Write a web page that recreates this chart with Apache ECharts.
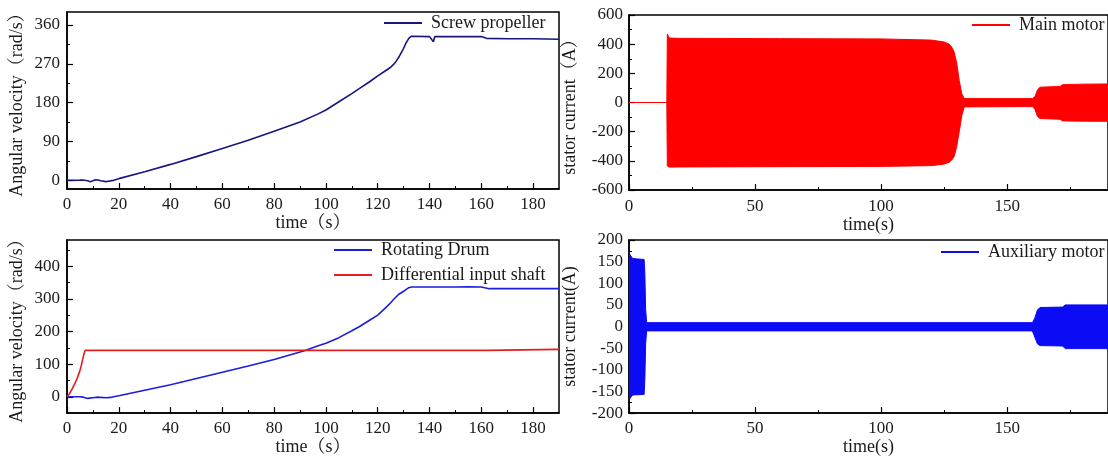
<!DOCTYPE html>
<html>
<head>
<meta charset="utf-8">
<script src="https://cdn.jsdelivr.net/npm/echarts@6/dist/echarts.min.js"></script>
<style>
  html, body { margin: 0; padding: 0; background: #fff; }
  #chart { width: 1108px; height: 457px; }
</style>
</head>
<body>
<div id="chart"></div>
<script>
// top-left: screw propeller angular velocity
const screwT = [0, 5, 6, 8, 9, 10, 11, 12, 13, 15, 16, 18, 20, 30, 40, 50, 60, 70, 80, 90, 97, 100, 105, 110, 113, 117, 120, 123, 125, 125.5, 126, 127, 128, 129, 130, 131, 132, 133, 140, 141.5, 142, 150, 160, 162, 170, 180, 190]
const screwV = [0, 0.5, 1, -1, -3, -1, 1.5, 1, -1, -3, -2, 0, 4, 20, 37, 55, 74, 93, 114, 135, 154, 163, 182, 201, 213, 229, 242, 254, 262, 258, 268, 275, 284, 295, 306, 319, 329, 334, 333, 321, 333, 333, 333, 329, 328, 328, 327]

// bottom-left: rotating drum and differential input shaft
const drumT = [0, 5, 6, 8, 10, 12, 13, 15, 17, 18, 20, 30, 40, 50, 60, 70, 80, 82, 90, 92, 97, 100, 105, 110, 113, 117, 120, 123, 125, 126, 128, 130, 131, 132, 133, 140, 150, 155, 160, 163, 170, 180, 190]
const drumV = [0, 0, -1, -5, -3, -1, -2, -3, -2, 0, 3, 20, 37, 56, 75, 94, 114, 119, 137, 142, 156, 164, 181, 202, 215, 235, 250, 272, 288, 297, 313, 323, 329, 334, 336, 336, 336, 337, 336, 331, 331, 331, 331]
const shaftT = [0, 1, 2, 3, 4, 5, 5.5, 6, 6.5, 7, 100, 162, 162.5, 190]
const shaftV = [0, 10, 24, 40, 58, 80, 95, 112, 130, 142, 142, 142, 145, 145]

// top-right: main motor stator current envelope
const mainT = [0, 15, 15.2, 16, 20, 60, 100, 120, 125, 127, 128, 129, 130, 131, 132, 133, 160, 161, 162, 163, 171, 172, 180, 190]
const mainUp = [0, 0, 470, 442, 440, 438, 436, 428, 415, 400, 380, 345, 270, 150, 60, 27, 27, 40, 85, 105, 110, 122, 126, 127]
const mainLo = [0, 0, -435, -443, -442, -440, -438, -433, -422, -410, -395, -370, -300, -200, -90, -30, -28, -45, -95, -110, -115, -126, -128, -129]

// bottom-right: auxiliary motor stator current envelope
const auxT = [0, 0.5, 1.5, 6, 6.3, 6.6, 7, 160, 161, 162, 163, 172, 173, 190]
const auxUp = [172, 165, 157, 155, 120, 40, 9, 9, 20, 38, 44, 45, 50, 50]
const auxLo = [-172, -165, -158, -157, -120, -40, -10, -10, -25, -40, -44, -45, -51, -51]

// ticks
const timeMajor = [0, 20, 40, 60, 80, 100, 120, 140, 160, 180]
const timeMinor = [10, 30, 50, 70, 90, 110, 130, 150, 170]
const time50Major = [0, 50, 100, 150]
const time50Minor = [25, 75, 125, 175]
const screwMajor = [0, 90, 180, 270, 360]
const screwMinor = [45, 135, 225, 315]
const drumMajor = [0, 100, 200, 300, 400]
const drumMinor = [50, 150, 250, 350, 450]
const mainMajor = [-600, -400, -200, 0, 200, 400, 600]
const mainMinor = [-500, -300, -100, 100, 300, 500]
const auxMajor = [-200, -150, -100, -50, 0, 50, 100, 150, 200]
const auxMinor = [-175, -125, -75, -25, 25, 75, 125, 175]

const font = '"Liberation Serif", "Times New Roman", "Noto Serif CJK SC", "Noto Sans CJK SC", serif'
const txt = '#1a1a1a'

function pairs(t, v) {
  return t.map((x, i) => [x, v[i]])
}

// main axis + a bare axis that only carries the short minor ticks
function axes(pos, grid, min, max, major, minor, name, nameGap, margin) {
  let main = {
    type: 'value', gridIndex: grid, position: pos, min: min, max: max,
    name: name, nameLocation: 'middle', nameGap: nameGap,
    nameTextStyle: { fontFamily: font, fontSize: 18, color: txt },
    axisLine: { show: true, onZero: false, lineStyle: { color: '#000', width: 1.5 } },
    axisTick: { show: true, inside: true, length: 6, customValues: major, lineStyle: { color: '#000', width: 1.2 } },
    axisLabel: { customValues: major, margin: margin, fontFamily: font, fontSize: 17, color: txt },
    splitLine: { show: false },
  }
  let sub = {
    type: 'value', gridIndex: grid, position: pos, min: min, max: max,
    axisLine: { show: false, onZero: false },
    axisTick: { show: true, inside: true, length: 3, customValues: minor, lineStyle: { color: '#000', width: 1 } },
    axisLabel: { show: false },
    splitLine: { show: false },
  }
  return [main, sub]
}

const grids = [
  { left: 67, top: 12, width: 492, height: 177 },
  { left: 629, top: 15, width: 487, height: 175 },
  { left: 67, top: 240, width: 492, height: 177 },
  { left: 629, top: 240, width: 487, height: 174 },
].map(g => Object.assign(g, { show: true, borderColor: '#000', borderWidth: 1.5, backgroundColor: 'transparent', containLabel: false }))

const xAxis = [].concat(
  axes('bottom', 0, 0, 190, timeMajor, timeMinor, 'time（s）', 22, 7),
  axes('bottom', 1, 0, 190, time50Major, time50Minor, 'time(s)', 24, 8),
  axes('bottom', 2, 0, 190, timeMajor, timeMinor, 'time（s）', 22, 7),
  axes('bottom', 3, 0, 190, time50Major, time50Minor, 'time(s)', 22, 7),
)
const yAxis = [].concat(
  axes('left', 0, -20, 390, screwMajor, screwMinor, 'Angular velocity（rad/s）', 41, 7),
  axes('left', 1, -600, 600, mainMajor, mainMinor, 'stator current（A）', 50, 6),
  axes('left', 2, -50, 480, drumMajor, drumMinor, 'Angular velocity（rad/s）', 41, 7),
  axes('left', 3, -200, 200, auxMajor, auxMinor, 'stator current(A)', 50, 6),
)

// origin: where the fill goes to; the two halves of a band overlap a little so no seam shows at 0
function line(name, g, data, color, width, origin) {
  let s = {
    type: 'line', name: name, xAxisIndex: g * 2, yAxisIndex: g * 2,
    data: data, symbol: 'none', showSymbol: false, color: color,
    lineStyle: { color: color, width: width }, animation: false,
  }
  if (origin !== undefined) s.areaStyle = { color: color, opacity: 1, origin: origin }
  return s
}

const legendBase = {
  icon: 'rect', itemWidth: 38, itemHeight: 2, padding: 0, itemGap: 7, selectedMode: false,
  textStyle: { fontFamily: font, fontSize: 18, color: txt, padding: [0, 0, 0, 4] },
}

const option = {
  backgroundColor: '#fff',
  animation: false,
  grid: grids,
  xAxis: xAxis,
  yAxis: yAxis,
  legend: [
    Object.assign({ data: ['Screw propeller'], left: 384, top: 14 }, legendBase),
    Object.assign({ data: ['Main motor'], left: 972, top: 16 }, legendBase),
    Object.assign({ data: ['Rotating Drum', 'Differential input shaft'], orient: 'vertical', left: 334, top: 241 }, legendBase),
    Object.assign({ data: ['Auxiliary motor'], left: 941, top: 243 }, legendBase),
  ],
  series: [
    line('Screw propeller', 0, pairs(screwT, screwV), '#16167e', 1.6),
    line('Main motor', 1, pairs(mainT, mainUp), '#ff0000', 1, -4),
    line('Main motor low', 1, pairs(mainT, mainLo), '#ff0000', 1, 4),
    line('Rotating Drum', 2, pairs(drumT, drumV), '#1c1cdc', 1.6),
    line('Differential input shaft', 2, pairs(shaftT, shaftV), '#e41e1e', 1.6),
    line('Auxiliary motor', 3, pairs(auxT, auxUp), '#0b0bf5', 1, -2),
    line('Auxiliary motor low', 3, pairs(auxT, auxLo), '#0b0bf5', 1, 2),
  ],
}

const chart = echarts.init(document.getElementById('chart'))
chart.setOption(option)
window.addEventListener('resize', () => {
  chart.resize()
})
</script>
</body>
</html>
